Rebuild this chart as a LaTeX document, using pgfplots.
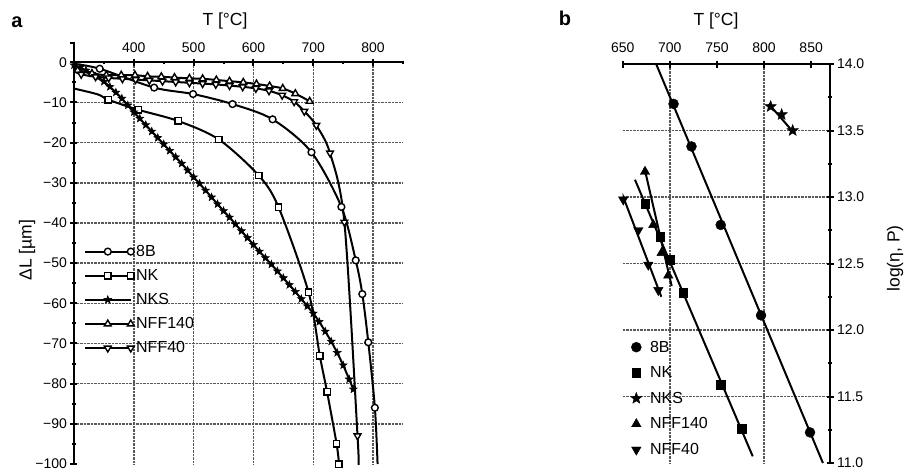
\documentclass[border=0pt]{standalone}
\usepackage{fontspec}
\setmainfont{Liberation Sans}
\usepackage{pgfplots}
\pgfplotsset{compat=1.18}
\usetikzlibrary{calc}

% filled five-pointed star mark
\pgfdeclareplotmark{fstar}{%
  \pgfpathmoveto{\pgfpointpolar{90}{\pgfplotmarksize}}%
  \pgfpathlineto{\pgfpointpolar{126}{0.42\pgfplotmarksize}}%
  \pgfpathlineto{\pgfpointpolar{162}{\pgfplotmarksize}}%
  \pgfpathlineto{\pgfpointpolar{198}{0.42\pgfplotmarksize}}%
  \pgfpathlineto{\pgfpointpolar{234}{\pgfplotmarksize}}%
  \pgfpathlineto{\pgfpointpolar{270}{0.42\pgfplotmarksize}}%
  \pgfpathlineto{\pgfpointpolar{306}{\pgfplotmarksize}}%
  \pgfpathlineto{\pgfpointpolar{342}{0.42\pgfplotmarksize}}%
  \pgfpathlineto{\pgfpointpolar{18}{\pgfplotmarksize}}%
  \pgfpathlineto{\pgfpointpolar{54}{0.42\pgfplotmarksize}}%
  \pgfpathclose
  \pgfusepathqfillstroke
}

\pgfplotsset{
  myaxis/.style={
    scale only axis,
    tick align=outside,
    major tick length=7pt,
    minor tick length=3.5pt,
    tick style={black, line width=2pt},
    tick label style={font=\fontsize{14}{14}\selectfont},
    /pgf/number format/assume math mode=true,
    major grid style={densely dotted, line width=1.5pt, black!65},
    legend cell align=left,
  },
  ser/.style={black, line width=2pt},
}

\begin{document}
\begin{tikzpicture}[x=1pt,y=1pt]

% ---- panel a: dilatometer curves
\begin{axis}[myaxis, name=A,
  width=329pt, height=401.7pt,
  xmin=300, xmax=850, ymin=-100, ymax=0,
  axis x line=top, axis y line=left,
  axis line style={-, line width=2.4pt, black},
  xtick={400,500,...,800}, minor xtick={350,450,...,850},
  xticklabel style={yshift=3pt},
  ytick={-90,-80,...,0},
  yticklabels={−90,−80,−70,−60,−50,−40,−30,−20,−10,0},
  minor ytick={-95,-85,...,-5},
  extra y ticks={-100}, extra y tick labels={−100}, extra y tick style={grid=none},
  grid=major,
  legend style={at={(axis cs:311,-44.5)}, anchor=north west, draw=none, fill=none,
    font=\fontsize{16}{18}\selectfont, row sep=7.5pt},
  legend image code/.code={\draw[mark repeat=2,mark phase=2,#1] plot coordinates {(0pt,0pt) (23pt,0pt) (46pt,0pt)};},
]
\addplot[ser, smooth, mark=*, mark size=3.4pt, mark options={solid, fill=white, line width=1.4pt}, mark indices={2,3,...,12}]
  coordinates {(300,-0.4) (343,-1.6) (434,-6.3) (499,-7.9) (565,-10.4) (632,-14.2) (697,-22.4) (747,-36) (771,-49.3) (782,-57.7) (792,-69.7) (803,-86) (807.5,-100)};
\addlegendentry{8B}
\addplot[ser, smooth, mark=square*, mark size=3.2pt, mark options={solid, fill=white, line width=1.4pt}, mark indices={2,3,...,12}]
  coordinates {(299,-6.5) (340,-8.0) (357,-9.3) (407,-11.8) (474,-14.6) (542,-19.2) (609,-28.2) (642,-36.1) (692,-57.2) (711,-73.1) (723,-82) (739,-95) (743,-100)};
\addlegendentry{NK}
\addplot[ser, smooth, mark=fstar, mark size=4pt, mark options={solid, fill=black, line width=0.6pt}]
  coordinates {(300,-0.7) (310,-1.3) (320,-2.0) (330,-2.8) (340,-3.7) (350,-4.8) (360,-6.1) (370,-7.5) (380,-9.0) (390,-10.7)
  (400,-12.4) (410,-14.0) (420,-15.6) (430,-17.2) (440,-18.8) (450,-20.4) (460,-22.0) (470,-23.6) (480,-25.2) (490,-26.9)
  (500,-28.6) (510,-30.2) (520,-31.9) (530,-33.6) (540,-35.3) (550,-37.0) (560,-38.6) (570,-40.3) (580,-42.0) (590,-43.7)
  (600,-45.4) (610,-47.1) (620,-48.7) (630,-50.3) (640,-52.0) (650,-53.7) (660,-55.4) (670,-57.1) (680,-58.9) (690,-60.7)
  (700,-62.5) (710,-64.6) (720,-67.0) (730,-69.5) (740,-72.3) (750,-75.4) (760,-78.9) (767,-81.4)};
\addlegendentry{NKS}
\addplot[ser, smooth, mark=triangle*, mark size=3.9pt, mark options={solid, fill=white, line width=1.4pt}, mark indices={2,3,...,19}]
  coordinates {(300,-1.4) (306,-2.0) (330,-2.8) (354,-3.2) (379,-3.2) (402,-3.2) (423,-3.5) (446,-3.6) (468,-3.8) (493,-4.0)
  (515,-4.1) (538,-4.4) (560,-4.7) (583,-5.0) (605,-5.4) (627,-5.9) (649,-6.5) (670,-7.8) (694,-9.7)};
\addlegendentry{NFF140}
\addplot[ser, smooth, mark=triangle*, mark size=3.9pt, mark options={solid, fill=white, line width=1.4pt, rotate=180}, mark indices={2,3,...,23}]
  coordinates {(300,-2.2) (312,-3.0) (336,-3.6) (358,-3.9) (381,-4.1) (403,-4.3) (426,-4.5) (448,-4.7) (470,-4.9) (493,-5.1)
  (515,-5.3) (537,-5.5) (560,-5.8) (582,-6.1) (604,-6.5) (626,-7.1) (648,-8.2) (668,-9.8) (685,-12.2) (705,-15.7)
  (728,-22.6) (752,-39.8) (774,-93) (775.5,-100)};
\addlegendentry{NFF40}
\coordinate (A0) at (rel axis cs:0,0);
\coordinate (A1) at (rel axis cs:0,1);
\end{axis}

% ---- panel b: viscosity
\begin{axis}[myaxis, at={($(A0)+(548.7,1)$)}, anchor=south west,
  width=207.3pt, height=399pt,
  xmin=650, xmax=870, ymin=11, ymax=14,
  axis x line=top, axis y line=right,
  axis line style={-, line width=2.4pt, black},
  xtick={650,700,...,850},
  xticklabel style={yshift=4pt},
  ytick={11,11.5,...,14}, minor ytick={11.25,11.75,...,13.75},
  yticklabel style={/pgf/number format/.cd, fixed, fixed zerofill, precision=1},
  extra x ticks={700,800}, extra x tick labels={}, extra x tick style={grid=major},
  extra y ticks={11.5,12,...,13.5}, extra y tick labels={}, extra y tick style={grid=major},
  legend style={at={(axis cs:655,11.95)}, anchor=north west, draw=none, fill=none,
    font=\fontsize{16}{18}\selectfont, row sep=9pt,
    /tikz/every odd column/.append style={column sep=6pt}},
]
\addplot[ser, forget plot] coordinates {(685.5,14) (862.5,11)};
\addplot[ser, forget plot] coordinates {(663,13.13) (788,11.05)};
\addplot[ser, forget plot] coordinates {(805,13.70) (832,13.48)};
\addplot[ser, forget plot] coordinates {(673,13.22) (702,12.33)};
\addplot[ser, forget plot] coordinates {(649,13.03) (691,12.25)};
\addplot[black, only marks, mark=*, mark size=5pt]
  coordinates {(704,13.70) (723,13.38) (754,12.79) (796.8,12.11) (848.8,11.23)};
\addlegendentry{8B}
\addplot[black, only marks, mark=square*, mark size=4.3pt]
  coordinates {(673.7,12.95) (689.6,12.70) (700.2,12.53) (714.3,12.28) (754,11.59) (776.3,11.26)};
\addlegendentry{NK}
\addplot[black, only marks, mark=fstar, mark size=6pt, mark options={fill=black}]
  coordinates {(807,13.68) (818.7,13.62) (830.4,13.50)};
\addlegendentry{NKS}
\addplot[black, only marks, mark=triangle*, mark size=5.5pt]
  coordinates {(673.7,13.19) (682.5,12.79) (691.3,12.58) (698.4,12.41)};
\addlegendentry{NFF140}
\addplot[black, only marks, mark=triangle*, mark size=5.5pt, mark options={rotate=180}]
  coordinates {(650.6,12.98) (666.6,12.75) (677.2,12.49) (687.8,12.30)};
\addlegendentry{NFF40}
\end{axis}

% upper stub of the left axis of panel a, above the zero line
\draw[line width=2.4pt] (A1) -- ++(0,19) -- ++(-4,0);

\pgfresetboundingbox
\coordinate (O) at ($(A0)+(-74,-8)$);
\path[use as bounding box] (O) rectangle ++(906,472);

\node[font=\bfseries\fontsize{20}{20}\selectfont] at ($(O)+(17,450)$) {a};
\node[font=\fontsize{17.5}{18}\selectfont] at ($(O)+(225,451.5)$) {T [°C]};
\node[font=\fontsize{17.5}{18}\selectfont, rotate=90] at ($(O)+(27,222)$) {ΔL [µm]};
\node[font=\bfseries\fontsize{20}{20}\selectfont] at ($(O)+(565,453.7)$) {b};
\node[font=\fontsize{17.5}{18}\selectfont] at ($(O)+(716,451.5)$) {T [°C]};
\node[font=\fontsize{17.5}{18}\selectfont, rotate=90] at ($(O)+(895,213.5)$) {log(η, P)};
\end{tikzpicture}
\end{document}
